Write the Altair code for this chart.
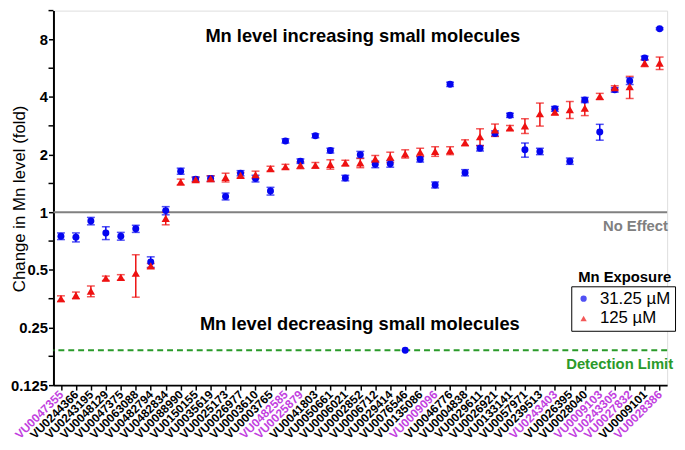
import altair as alt
import pandas as pd

compounds = ["VU0047355", "VU0244366", "VU0243195", "VU0048129", "VU0047375", "VU0063088",
             "VU0482794", "VU0482834", "VU0088990", "VU0150155", "VU0035619", "VU0025173",
             "VU0026977", "VU0003610", "VU0003765", "VU0482585", "VU0025879", "VU0041803",
             "VU0050661", "VU0006021", "VU0002852", "VU0006712", "VU0029414", "VU0076546",
             "VU0135086", "VU0009096", "VU0046776", "VU0004838", "VU0029611", "VU0026921",
             "VU0133141", "VU0057971", "VU0239513", "VU0243403", "VU0026395", "VU0028040",
             "VU0009103", "VU0243305", "VU0027832", "VU0009101", "VU0028386"]
purple = ["VU0047355", "VU0482585", "VU0025879", "VU0009096", "VU0243403",
          "VU0009103", "VU0243305", "VU0027832", "VU0028386"]

blue_val = [0.75, 0.74, 0.90, 0.78, 0.75, 0.82, 0.55, 1.02, 1.64, 1.49, 1.50, 1.21, 1.60, 1.50,
            1.29, 2.36, 1.85, 2.51, 2.10, 1.51, 2.00, 1.78, 1.79, 0.19, 1.89, 1.39, 4.66, 1.61,
            2.16, 2.58, 3.21, 2.12, 2.08, 3.47, 1.85, 3.86, 2.63, 4.36, 4.85, 6.39, 9.10]
blue_err = [0.03, 0.04, 0.04, 0.06, 0.035, 0.035, 0.035, 0.05, 0.06, 0.04, 0.05, 0.05, 0.05, 0.06,
            0.06, 0.06, 0.05, 0.06, 0.06, 0.05, 0.08, 0.07, 0.07, 0.0, 0.06, 0.05, 0.12, 0.06,
            0.07, 0.08, 0.08, 0.18, 0.08, 0.10, 0.07, 0.12, 0.25, 0.12, 0.20, 0.15, 0.10]
red_val = [0.354, 0.368, 0.387, 0.452, 0.457, 0.48, 0.525, 0.93, 1.44, 1.48, 1.50, 1.52, 1.56, 1.57,
           1.69, 1.73, 1.76, 1.76, 1.78, 1.81, 1.81, 1.90, 1.94, 2.02, 2.06, 2.08, 2.10, 2.31,
           2.48, 2.69, 2.76, 2.83, 3.27, 3.34, 3.44, 3.50, 4.03, 4.48, 4.53, 6.02, 6.02]
red_err = [0.012, 0.015, 0.025, 0.012, 0.015, 0.12, 0.015, 0.07, 0.05, 0.04, 0.05, 0.08, 0.05, 0.07,
           0.05, 0.05, 0.07, 0.06, 0.10, 0.06, 0.10, 0.08, 0.12, 0.10, 0.10, 0.12, 0.10, 0.08,
           0.25, 0.20, 0.08, 0.25, 0.45, 0.12, 0.35, 0.30, 0.15, 0.10, 0.60, 0.25, 0.45]

series_names = ["31.25 µM", "125 µM"]
series_colors = ["#0505f0", "#ee1111"]
y_ticks = [0.125, 0.25, 0.5, 1, 2, 4, 8]
y_minor = [0.1768, 0.3536, 0.7071, 1.4142, 2.8284, 5.6569, 11.3137]
no_effect = 1
detection_limit = 0.19

rows = []
for i, c in enumerate(compounds):
    for name, col, vals, errs in [(series_names[0], series_colors[0], blue_val, blue_err),
                                   (series_names[1], series_colors[1], red_val, red_err)]:
        rows.append({"compound": c, "series": name, "col": col, "value": vals[i],
                     "lo": vals[i] - errs[i], "hi": vals[i] + errs[i], "err": errs[i]})
df = pd.DataFrame(rows)
err_df = df[df["err"] > 0]

FONT = "Liberation Sans"
purple_list = ",".join("'" + p + "'" for p in purple)

yscale = alt.Scale(type="log", base=2, domain=[0.125, 11.3137], nice=False)
yaxis = alt.Axis(values=y_ticks, format=".3~g", title="Change in Mn level (fold)",
                 titleFontSize=17, titleFontWeight="normal", titleFont=FONT,
                 titleX=-34, titleY=190, titleAngle=-90, titleAlign="center",
                 titleBaseline="middle",
                 labelFontSize=15, labelFontWeight="bold", labelFont=FONT, labelPadding=1,
                 tickSize=5, tickWidth=1.5, tickColor="black", domainColor="black",
                 domainWidth=2, grid=False, labelColor="black", titleColor="black")
xscale = alt.Scale(type="point", padding=0.5)
xaxis = alt.Axis(title=None, labelAngle=-45, labelAlign="right", labelBaseline="middle",
                 labelFontSize=12, labelFontWeight="bold", labelFont=FONT, labelPadding=2,
                 labelOverlap=False, labelBound=False,
                 labelColor={"condition": {"test": "indexof([" + purple_list + "], datum.value) >= 0",
                                           "value": "#c23fe0"}, "value": "black"},
                 tickSize=5, tickWidth=1.5, tickColor="black", domainColor="black", domainWidth=2,
                 grid=False)

X = alt.X("compound:N", sort=compounds, scale=xscale, axis=xaxis)

line_one = alt.Chart(pd.DataFrame({"y": [no_effect]})).mark_rule(
    color="#808080", strokeWidth=2).encode(y=alt.Y("y:Q", scale=yscale, axis=yaxis))
line_det = alt.Chart(pd.DataFrame({"y": [detection_limit]})).mark_rule(
    color="#2a9a2a", strokeWidth=2, strokeDash=[6, 4]).encode(
    y=alt.Y("y:Q", scale=yscale, axis=yaxis))

minor = alt.Chart(pd.DataFrame({"m": y_minor})).mark_rule(
    color="black", strokeWidth=1.5).encode(
    y=alt.Y("m:Q", scale=yscale, axis=yaxis), x=alt.value(-5), x2=alt.value(0))

bars = alt.Chart(err_df).mark_rule(strokeWidth=1.5).encode(
    x=X, y=alt.Y("lo:Q", scale=yscale, axis=yaxis), y2="hi:Q",
    color=alt.Color("col:N", scale=None))
caps = alt.Chart(err_df).transform_fold(["lo", "hi"], as_=["k", "cap"]).mark_tick(
    thickness=1.5, size=8, orient="horizontal").encode(
    x=X, y=alt.Y("cap:Q", scale=yscale, axis=yaxis),
    color=alt.Color("col:N", scale=None))

leg = alt.Legend(title=None, orient="none", legendX=524, legendY=279, strokeColor="black",
                 fillColor="white", padding=4, labelFontSize=17, labelFont=FONT,
                 labelColor="black", symbolSize=40, rowPadding=2, labelOffset=8,
                 symbolStrokeWidth=0)
color_enc = alt.Color("series:N", scale=alt.Scale(domain=series_names, range=series_colors), legend=leg)
shape_enc = alt.Shape("series:N", scale=alt.Scale(domain=series_names, range=["circle", "triangle-up"]),
                      legend=leg)
pts_blue = alt.Chart(df).transform_filter(alt.datum.series == series_names[0]).mark_point(
    filled=True, size=50, opacity=1).encode(
    x=X, y=alt.Y("value:Q", scale=yscale, axis=yaxis), color=color_enc, shape=shape_enc)
pts_red = alt.Chart(df).transform_filter(alt.datum.series == series_names[1]).mark_point(
    filled=True, size=70, opacity=1).encode(
    x=X, y=alt.Y("value:Q", scale=yscale, axis=yaxis), color=color_enc, shape=shape_enc)


def label(text, x, y, size, color, weight="bold", align="center"):
    return alt.Chart(pd.DataFrame({"t": [text]})).mark_text(
        fontSize=size, fontWeight=weight, font=FONT, color=color, align=align,
        baseline="middle").encode(text="t:N", x=alt.value(x), y=alt.value(y))


texts = [
    label("Mn level increasing small molecules", 313, 26, 18.5, "black"),
    label("Mn level decreasing small molecules", 310, 317, 18.5, "black"),
    label("No Effect", 589, 218, 15, "#808080"),
    label("Detection Limit", 573, 358, 15, "#2a9a2a"),
    label("Mn Exposure", 578, 270, 15, "black"),
]

chart = alt.layer(line_one, line_det, minor, bars, caps, pts_blue, pts_red, *texts).properties(
    width=621, height=379,
    padding={"left": 46, "top": 0, "right": 10, "bottom": 62},
    autosize=alt.AutoSizeParams(type="none"),
).configure_view(stroke=None).configure_legend(strokeWidth=2).configure(font=FONT)

chart.save("out.html", embed_options={"renderer": "svg", "actions": False})
